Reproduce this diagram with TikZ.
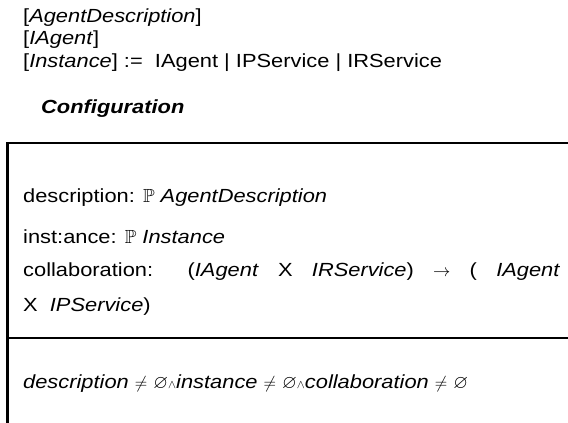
\documentclass[tikz,border=0pt]{standalone}
\usepackage{amsmath, amssymb}
\usepackage{fontspec}
\setmainfont[FakeStretch=1.15]{Liberation Sans}
\usepackage{tikz}
\usetikzlibrary{positioning}

\begin{document}
\begin{tikzpicture}[x=1pt, y=-1pt,
    ztext/.style={anchor=base west, inner sep=0pt, font=\fontsize{19}{22}\selectfont},
    zline/.style={line width=2.5pt}]
    \useasboundingbox (0,0) rectangle (568,423);

    % given sets
    \node[ztext] (given1) at (23,23) {[\textit{AgentDescription}]};
    \node[ztext] (given2) at (23,45) {[\textit{IAgent}]};
    \node[ztext] (given3) at (23,67) {[\textit{Instance}] :=\ \ IAgent | IPService | IRService};

    % schema name
    \node[ztext] (name) at (41,113) {\textbf{\textit{Configuration}}};

    % schema frame
    \draw[zline] (568,143) -- (7.5,143) -- (7.5,423);
    \draw[zline] (7.5,338) -- (568,338);

    % declarations
    \node[ztext] (decl1) at (23,202) {description: $\mathbb{P}$ \textit{AgentDescription}};
    \node[ztext] (decl2) at (23,243) {inst:ance: $\mathbb{P}$ \textit{Instance}};
    \node[ztext] (decl3) at (23,276) {\makebox[537pt][s]{collaboration: (\textit{IAgent} X \textit{IRService}) $\rightarrow$ ( \textit{IAgent}}};
    \node[ztext] (decl4) at (23,311) {X\ \ \textit{IPService})};

    % predicate
    \node[ztext] (pred) at (23,388) {\textit{description} $\neq$ $\varnothing${\fontsize{13}{13}\selectfont$\wedge$}\textit{instance} $\neq$ $\varnothing${\fontsize{13}{13}\selectfont$\wedge$}\textit{collaboration} $\neq$ $\varnothing$};
\end{tikzpicture}
\end{document}
